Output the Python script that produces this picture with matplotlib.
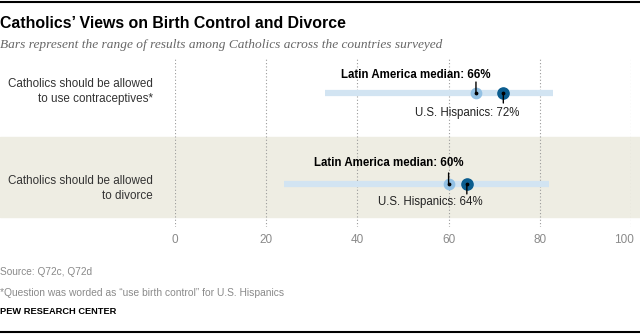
import matplotlib.pyplot as plt
from matplotlib.patches import Rectangle
from matplotlib.lines import Line2D
from matplotlib.transforms import ScaledTranslation

# data
categories = ['Catholics should be allowed\nto use contraceptives*',
              'Catholics should be allowed\nto divorce']
range_low = [33, 24]
range_high = [83, 82]
latam_median = [66, 60]
us_hispanics = [72, 64]
ticks = [0, 20, 40, 60, 80, 100]

sans = ['Liberation Sans Narrow', 'Liberation Sans', 'DejaVu Sans']
plt.rcParams['font.family'] = ['Liberation Sans', 'DejaVu Sans']

fig = plt.figure(figsize=(6.4, 3.34), dpi=100)
W, H = 640, 334

# top and bottom rules, shaded band behind second row
fig.add_artist(Line2D([0, 1], [1 - 1.5 / H] * 2, color='black', lw=1.5))
fig.add_artist(Line2D([0, 1], [1 - 331.5 / H] * 2, color='black', lw=1.5))
fig.add_artist(Rectangle((0, 1 - 217 / H), 1, 80 / H, color='#eeede3',
                         zorder=0, transform=fig.transFigure))

ax = fig.add_axes([175 / W, 1 - 227 / H, 456 / W, 170 / H])
ax.patch.set_alpha(0)
ax.set_xlim(0, 100)
ax.set_ylim(1.473, -0.396)
for s in ax.spines.values():
    s.set_visible(False)
ax.set_yticks([])
ax.set_xticks(ticks)
ax.set_xticklabels([str(t) for t in ticks])
ax.tick_params(axis='x', length=0, pad=5, labelsize=8.5, labelcolor='#8a8a8a')
# last label sits a bit left of its gridline
last = ax.get_xticklabels()[-1]
last.set_transform(last.get_transform() + ScaledTranslation(-0.07, 0, fig.dpi_scale_trans))
for t in ticks:
    ax.axvline(t, color='#9a9a9a', lw=0.8, ls=(0, (1, 2)), zorder=1)

y_pos = list(range(len(categories)))
ax.hlines(y_pos, range_low, range_high, color='#d2e4f2', lw=4.5, zorder=2)
ax.scatter(latam_median, y_pos, s=55, color='#93c1e4', zorder=4)
ax.scatter(us_hispanics, y_pos, s=65, color='#0b5d8f', zorder=4)
ax.scatter(latam_median + us_hispanics, y_pos + y_pos, s=3, color='black', zorder=5)

label_dy = [1.5, -4.5]
top_dy = [18, 21]
bot_dy = [20, 18]
for i, y in enumerate(y_pos):
    m = latam_median[i]
    u = us_hispanics[i]
    ax.annotate('', xy=(m, y), xytext=(0, 11), textcoords='offset pixels',
                arrowprops=dict(arrowstyle='-', lw=1, color='black',
                                shrinkA=0, shrinkB=0), zorder=6)
    ax.annotate('', xy=(u, y), xytext=(0, -10), textcoords='offset pixels',
                arrowprops=dict(arrowstyle='-', lw=1, color='black',
                                shrinkA=0, shrinkB=0), zorder=6)
    ax.annotate(f'Latin America median: {m}%', xy=(m, y),
                xytext=(15, top_dy[i]), textcoords='offset pixels',
                ha='right', va='center', fontsize=8.3, fontweight='bold',
                family=sans)
    ax.annotate(f'U.S. Hispanics: {u}%', xy=(u, y),
                xytext=(16, -bot_dy[i]), textcoords='offset pixels',
                ha='right', va='center', fontsize=8.3, color='#222222')
    ax.annotate(categories[i], xy=(0, y), xycoords=('axes fraction', 'data'),
                xytext=(-22, label_dy[i]), textcoords='offset pixels',
                ha='right', va='center', fontsize=8.4, color='#333333',
                linespacing=1.3)

fig.text(0, 1 - 23 / H, 'Catholics\u2019 Views on Birth Control and Divorce',
         fontsize=11.4, fontweight='bold', va='center', family=sans)
fig.text(0, 1 - 45 / H,
         'Bars represent the range of results among Catholics across the countries surveyed',
         fontsize=9.6, style='italic', color='#666666', va='center',
         family=['Liberation Serif', 'DejaVu Serif'])
fig.text(0, 1 - 272 / H, 'Source: Q72c, Q72d', fontsize=7.3, color='#8a8a8a',
         va='center', family=sans)
fig.text(0, 1 - 293 / H,
         '*Question was worded as \u201cuse birth control\u201d for U.S. Hispanics',
         fontsize=7.4, color='#8a8a8a', va='center', family=sans)
fig.text(0, 1 - 312 / H, 'PEW RESEARCH CENTER', fontsize=6.7, fontweight='bold',
         va='center', family=sans)

fig.savefig('out.png', dpi=100)
